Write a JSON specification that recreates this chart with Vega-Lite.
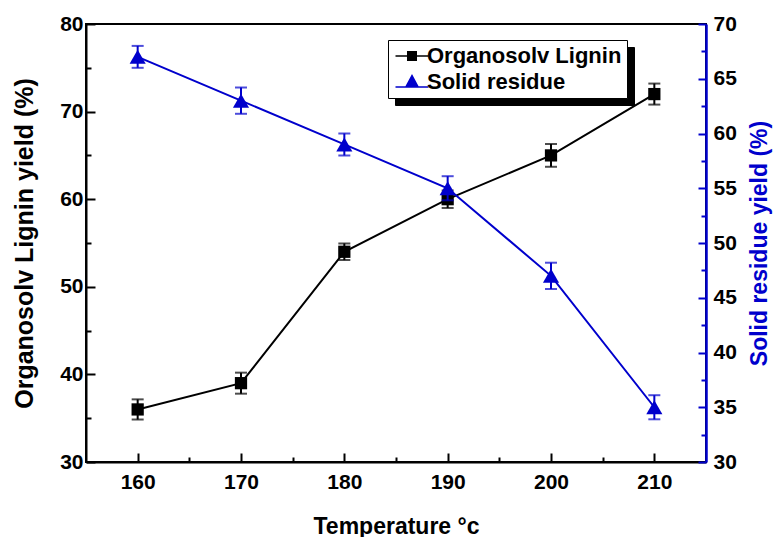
{
  "$schema": "https://vega.github.io/schema/vega-lite/v6.json",
  "width": 620,
  "height": 438,
  "autosize": {"type": "none"},
  "padding": {"left": 86, "top": 24, "right": 68, "bottom": 75},
  "background": "white",
  "config": {
    "view": {"stroke": "black", "strokeWidth": 2},
    "font": "Liberation Sans",
    "axis": {
      "grid": false,
      "labelFont": "Liberation Sans",
      "labelFontWeight": "bold",
      "labelFontSize": 21,
      "labelColor": "black",
      "titleFont": "Liberation Sans",
      "titleFontWeight": "bold",
      "titleColor": "black",
      "domainWidth": 2,
      "tickWidth": 2,
      "domainColor": "black",
      "tickColor": "black"
    },
    "legend": {
      "title": null,
      "orient": "none",
      "padding": 5,
      "symbolSize": 121,
      "labelFont": "Liberation Sans",
      "labelFontWeight": "bold",
      "labelFontSize": 22,
      "labelOffset": 4,
      "symbolOffset": 8,
      "rowPadding": 4,
      "labelLimit": 400
    }
  },
  "data": {
    "values": [
      {"temp": 160, "series": "Organosolv Lignin", "value": 36, "lo": 34.85, "hi": 37.15},
      {"temp": 170, "series": "Organosolv Lignin", "value": 39, "lo": 37.8, "hi": 40.2},
      {"temp": 180, "series": "Organosolv Lignin", "value": 54, "lo": 53.05, "hi": 54.95},
      {"temp": 190, "series": "Organosolv Lignin", "value": 60, "lo": 59, "hi": 61},
      {"temp": 200, "series": "Organosolv Lignin", "value": 65, "lo": 63.7, "hi": 66.3},
      {"temp": 210, "series": "Organosolv Lignin", "value": 72, "lo": 70.8, "hi": 73.2},
      {"temp": 160, "series": "Solid residue", "value": 67, "lo": 66, "hi": 68},
      {"temp": 170, "series": "Solid residue", "value": 63, "lo": 61.8, "hi": 64.2},
      {"temp": 180, "series": "Solid residue", "value": 59, "lo": 58, "hi": 60},
      {"temp": 190, "series": "Solid residue", "value": 55, "lo": 53.9, "hi": 56.1},
      {"temp": 200, "series": "Solid residue", "value": 47, "lo": 45.8, "hi": 48.2},
      {"temp": 210, "series": "Solid residue", "value": 35, "lo": 33.9, "hi": 36.1}
    ]
  },
  "encoding": {
    "x": {
      "field": "temp",
      "type": "quantitative",
      "scale": {"domain": [155, 215], "nice": false, "zero": false},
      "axis": {
        "title": "Temperature °c",
        "titleFontSize": 23,
        "titlePadding": 23,
        "values": [160, 165, 170, 175, 180, 185, 190, 195, 200, 205, 210],
        "labelExpr": "datum.value % 10 === 0 ? datum.label : ''",
        "tickSize": {"condition": {"test": "datum.value % 10 === 0", "value": -9}, "value": -5},
        "labelPadding": 18
      }
    }
  },
  "layer": [
    {
      "encoding": {
        "y": {
          "field": "value",
          "type": "quantitative",
          "scale": {"domain": [30, 80], "nice": false, "zero": false},
          "axis": {
            "orient": "left",
            "title": "Organosolv Lignin yield (%)",
            "titleFontSize": 25,
            "titlePadding": 22,
            "values": [30, 35, 40, 45, 50, 55, 60, 65, 70, 75, 80],
            "labelExpr": "datum.value % 10 === 0 ? datum.label : ''",
            "tickSize": {"condition": {"test": "datum.value % 10 === 0", "value": -9}, "value": -5},
            "labelPadding": 12
          }
        }
      },
      "layer": [
        {
          "transform": [{"filter": "datum.series === 'Organosolv Lignin'"}],
          "layer": [
            {"mark": {"type": "line", "color": "black", "strokeWidth": 2}},
            {
              "mark": {"type": "rule", "color": "black", "strokeWidth": 2},
              "encoding": {"y": {"field": "lo", "type": "quantitative"}, "y2": {"field": "hi"}}
            },
            {
              "mark": {"type": "tick", "orient": "horizontal", "color": "black", "thickness": 2, "size": 12},
              "encoding": {"y": {"field": "lo", "type": "quantitative"}}
            },
            {
              "mark": {"type": "tick", "orient": "horizontal", "color": "black", "thickness": 2, "size": 12},
              "encoding": {"y": {"field": "hi", "type": "quantitative"}}
            },
            {"mark": {"type": "point", "shape": "square", "filled": true, "color": "black", "size": 150, "opacity": 1}}
          ]
        },
        {
          "mark": {"type": "point", "filled": true, "opacity": 0, "size": 121},
          "encoding": {
            "fill": {
              "field": "series",
              "type": "nominal",
              "scale": {"domain": ["Organosolv Lignin", "Solid residue"], "range": ["black", "#0000cc"]},
              "legend": {"legendX": 302, "legendY": 16, "fillColor": "white", "strokeColor": "black", "symbolOpacity": 1, "zindex": 2, "labelColor": "black"}
            },
            "shape": {
              "field": "series",
              "type": "nominal",
              "scale": {
                "domain": ["Organosolv Lignin", "Solid residue"],
                "range": [
                  "M-3,-0.14H3V0.14H-3Z M-0.91,-0.91H0.91V0.91H-0.91Z",
                  "M-3,0.78H3V1.04H-3Z M0,-1.45L1.27,0.91H-1.27Z"
                ]
              },
              "legend": {"legendX": 302, "legendY": 16, "fillColor": "white", "strokeColor": "black", "symbolOpacity": 1, "zindex": 2, "labelColor": "black"}
            }
          }
        },
        {
          "mark": {"type": "point", "filled": false, "opacity": 0, "size": 121},
          "encoding": {
            "stroke": {
              "field": "series",
              "type": "nominal",
              "legend": {"legendX": 309, "legendY": 23, "fillColor": "black", "strokeColor": "black", "symbolOpacity": 0, "zindex": 1, "labelColor": "black"}
            }
          }
        }
      ]
    },
    {
      "transform": [{"filter": "datum.series === 'Solid residue'"}],
      "encoding": {
        "y": {
          "field": "value",
          "type": "quantitative",
          "scale": {"domain": [30, 70], "nice": false, "zero": false},
          "axis": {
            "orient": "right",
            "title": "Solid residue yield (%)",
            "titleFontSize": 23,
            "titleColor": "#0000cc",
            "titleAngle": -90,
            "titleBaseline": "top",
            "titlePadding": 12,
            "domainColor": "#0000cc",
            "domainWidth": 2.5,
            "tickColor": "#0000cc",
            "values": [30, 32.5, 35, 37.5, 40, 42.5, 45, 47.5, 50, 52.5, 55, 57.5, 60, 62.5, 65, 67.5, 70],
            "labelExpr": "datum.value % 5 === 0 ? datum.label : ''",
            "tickSize": {"condition": {"test": "datum.value % 5 === 0", "value": -8}, "value": -5},
            "labelPadding": 15
          }
        }
      },
      "layer": [
        {"mark": {"type": "line", "color": "#0000cc", "strokeWidth": 2}},
        {
          "mark": {"type": "rule", "color": "#0000cc", "strokeWidth": 2},
          "encoding": {"y": {"field": "lo", "type": "quantitative"}, "y2": {"field": "hi"}}
        },
        {
          "mark": {"type": "tick", "orient": "horizontal", "color": "#0000cc", "thickness": 2, "size": 12},
          "encoding": {"y": {"field": "lo", "type": "quantitative"}}
        },
        {
          "mark": {"type": "tick", "orient": "horizontal", "color": "#0000cc", "thickness": 2, "size": 12},
          "encoding": {"y": {"field": "hi", "type": "quantitative"}}
        },
        {"mark": {"type": "point", "shape": "triangle-up", "filled": true, "color": "#0000cc", "size": 260, "opacity": 1}}
      ]
    }
  ],
  "resolve": {"scale": {"y": "independent"}}
}
